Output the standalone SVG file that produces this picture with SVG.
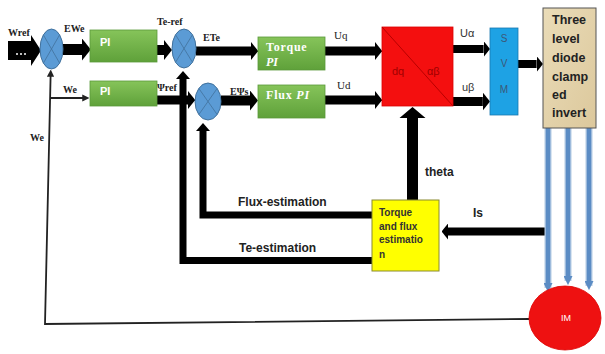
<svg xmlns="http://www.w3.org/2000/svg" width="605" height="354" viewBox="0 0 605 354">
<style>
.lbl{font-family:"Liberation Serif",serif;font-weight:bold;font-size:10px;fill:#222}
.sans{font-family:"Liberation Sans",Arial,sans-serif}
.thick{fill:none;stroke:#000;stroke-linecap:butt;stroke-linejoin:miter}
.sum{fill:#5b9bd5;stroke:#41719c;stroke-width:1}
.x{stroke:#41719c;stroke-width:0.8}
.pi{fill:url(#g);stroke:#5a9a3a;stroke-width:0.8}
.thin{fill:none;stroke:#222;stroke-width:1.8}
.blue{fill:none;stroke:#5b8cc4;stroke-width:4.5}
.blueo{fill:none;stroke:#b4cbe4;stroke-width:7}
</style>
<defs>
<linearGradient id="g" x1="0" y1="0" x2="0" y2="1">
<stop offset="0" stop-color="#86c45a"/>
<stop offset="1" stop-color="#5fa13a"/>
</linearGradient>
<linearGradient id="inv" x1="0" y1="0" x2="1" y2="1">
<stop offset="0" stop-color="#eadcb8"/>
<stop offset="1" stop-color="#dcc89c"/>
</linearGradient>
<marker id="ah" viewBox="0 0 8 20" refX="0" refY="10" markerWidth="0.8" markerHeight="2" orient="auto" markerUnits="strokeWidth">
<path d="M0,0 L8,10 L0,20 z" fill="#000"/>
</marker>
<marker id="ahs" viewBox="0 0 8 14" refX="0" refY="7" markerWidth="1.2" markerHeight="2" orient="auto" markerUnits="strokeWidth">
<path d="M0,0 L8,7 L0,14 z" fill="#000"/>
</marker>
<marker id="aht" viewBox="0 0 10 10" refX="1" refY="5" markerWidth="4" markerHeight="4" orient="auto" markerUnits="strokeWidth">
<path d="M0,0 L10,5 L0,10 z" fill="#222"/>
</marker>
<marker id="ahb" viewBox="0 0 10 10" refX="1" refY="5" markerWidth="2" markerHeight="2" orient="auto" markerUnits="strokeWidth">
<path d="M0,0 L10,5 L0,10 z" fill="#5b8cc4"/>
</marker>
</defs>
<rect width="605" height="354" fill="#fff"/>

<g id="connectors">
<!-- Wref input arrow -->
<path d="M8,41 L31,41 L31,35 L41,50.5 L31,66 L31,60 L8,60 z" fill="#000"/>
<circle cx="17" cy="54" r="1" fill="#fff"/><circle cx="21" cy="54" r="1" fill="#fff"/><circle cx="25" cy="54" r="1" fill="#fff"/>
<line class="thick" x1="63" y1="49.5" x2="82" y2="49.5" stroke-width="11" marker-end="url(#ah)"/>
<line class="thick" x1="157" y1="50" x2="164" y2="50" stroke-width="10" marker-end="url(#ah)"/>
<line class="thick" x1="196" y1="51" x2="251" y2="51" stroke-width="9" marker-end="url(#ah)"/>
<line class="thick" x1="325" y1="51" x2="375" y2="51" stroke-width="9" marker-end="url(#ah)"/>
<line class="thick" x1="157" y1="100" x2="188" y2="100" stroke-width="9" marker-end="url(#ah)"/>
<line class="thick" x1="221" y1="100.5" x2="250" y2="100.5" stroke-width="10" marker-end="url(#ah)"/>
<line class="thick" x1="325" y1="100" x2="375" y2="100" stroke-width="9" marker-end="url(#ah)"/>
<line class="thick" x1="453" y1="49" x2="483.6" y2="49" stroke-width="8" marker-end="url(#ah)"/>
<line class="thick" x1="453" y1="101.5" x2="482.8" y2="101.5" stroke-width="9" marker-end="url(#ah)"/>
<line class="thick" x1="518" y1="64" x2="536.6" y2="64" stroke-width="8" marker-end="url(#ah)"/>
<!-- theta -->
<path d="M407,200 L407,118 L399.5,118 L412.5,107 L425.5,118 L418,118 L418,200 z" fill="#000"/>
<!-- Is -->
<line class="thick" x1="548" y1="231.5" x2="448" y2="231.5" stroke-width="8" marker-end="url(#ah)"/>
<!-- Flux-estimation feedback -->
<path class="thick" d="M372,215 L203,215 L203,131" stroke-width="7" marker-end="url(#ahs)"/>
<!-- Te-estimation feedback -->
<path class="thick" d="M372,260.5 L183,260.5 L183,79" stroke-width="7" marker-end="url(#ahs)"/>
<!-- We speed feedback (thin) -->
<path class="thin" d="M529,319 L45,324 L50.6,76" marker-end="url(#aht)"/>
<line class="thin" x1="50.2" y1="98" x2="83" y2="98" marker-end="url(#aht)"/>
<!-- three phase lines to IM -->
<line class="blueo" x1="548" y1="128" x2="548" y2="288"/>
<line class="blueo" x1="568" y1="128" x2="568" y2="281"/>
<line class="blueo" x1="589" y1="128" x2="589" y2="286"/>
<line class="blue" x1="548" y1="128" x2="548" y2="284" marker-end="url(#ahb)"/>
<line class="blue" x1="568" y1="128" x2="568" y2="277" marker-end="url(#ahb)"/>
<line class="blue" x1="589" y1="128" x2="589" y2="282" marker-end="url(#ahb)"/>
</g>

<g id="labels">
<text class="lbl" x="8" y="36">Wref</text>
<text class="lbl" x="64" y="32">EWe</text>
<text class="lbl" x="157" y="25">Te-ref</text>
<text class="lbl" x="203" y="41">ETe</text>
<text class="lbl" x="63" y="93">We</text>
<text class="lbl" x="157" y="91">Ψref</text>
<text class="lbl" x="230" y="95">EΨs</text>
<text class="lbl" x="30" y="141">We</text>
<text class="lbl" x="334" y="39" style="font-weight:normal;font-size:11px">Uq</text>
<text class="lbl" x="337" y="89" style="font-weight:normal;font-size:11px">Ud</text>
<text class="sans" x="460" y="37" font-size="11" fill="#333">Uα</text>
<text class="sans" x="462" y="91" font-size="11" fill="#333">uβ</text>
<text class="sans" x="425" y="176" font-size="12" font-weight="bold" fill="#222">theta</text>
<text class="sans" x="473" y="217" font-size="12" font-weight="bold" fill="#222">Is</text>
<text class="sans" x="238" y="206" font-size="12" font-weight="bold" fill="#222">Flux-estimation</text>
<text class="sans" x="239" y="252" font-size="12" font-weight="bold" fill="#222">Te-estimation</text>
</g>

<g id="sum1">
<ellipse class="sum" cx="51.5" cy="49" rx="11.5" ry="20"/>
<line class="x" x1="43.4" y1="34.9" x2="59.6" y2="63.1"/><line class="x" x1="59.6" y1="34.9" x2="43.4" y2="63.1"/>
</g>
<g id="sum2">
<ellipse class="sum" cx="184" cy="48.5" rx="12" ry="19.5"/>
<line class="x" x1="175.5" y1="34.7" x2="192.5" y2="62.3"/><line class="x" x1="192.5" y1="34.7" x2="175.5" y2="62.3"/>
</g>
<g id="sum3">
<ellipse class="sum" cx="208" cy="101.5" rx="13" ry="18.5"/>
<line class="x" x1="198.8" y1="88.4" x2="217.2" y2="114.6"/><line class="x" x1="217.2" y1="88.4" x2="198.8" y2="114.6"/>
</g>

<g id="pi1">
<rect class="pi" x="90" y="30" width="67" height="32"/>
<text class="sans" x="100" y="46" font-size="11" font-weight="bold" fill="#fff">PI</text>
</g>
<g id="pi2">
<rect class="pi" x="90" y="81" width="67" height="25"/>
<text class="sans" x="100" y="95" font-size="11" font-weight="bold" fill="#fff">PI</text>
</g>
<g id="torque-pi">
<rect class="pi" x="258" y="37" width="67" height="33"/>
<text x="266" y="51" font-family="Liberation Serif,serif" font-size="12" font-weight="bold" fill="#fff" letter-spacing="0.8">Torque</text>
<text x="266" y="66" font-family="Liberation Serif,serif" font-size="12" font-weight="bold" font-style="italic" fill="#fff">PI</text>
</g>
<g id="flux-pi">
<rect class="pi" x="258" y="85" width="67" height="33"/>
<text x="266" y="99" font-family="Liberation Serif,serif" font-size="12" font-weight="bold" fill="#fff" letter-spacing="0.8">Flux <tspan font-style="italic">PI</tspan></text>
</g>

<g id="dq-ab">
<rect x="382" y="27" width="71" height="79" fill="#f40f0f" stroke="#d00" stroke-width="0.8"/>
<line x1="382" y1="27" x2="453" y2="106" stroke="#b80000" stroke-width="1"/>
<text class="sans" x="392" y="75" font-size="11" fill="#a00000">dq</text>
<text class="sans" x="427" y="75" font-size="11" fill="#a00000">αβ</text>
</g>

<g id="svm">
<rect x="490" y="28" width="28" height="87" fill="#1ea2e4" stroke="#1878b0" stroke-width="0.8"/>
<text class="sans" x="504" y="42" font-size="10" fill="#3b5878" text-anchor="middle">S</text>
<text class="sans" x="504" y="67" font-size="10" fill="#3b5878" text-anchor="middle">V</text>
<text class="sans" x="504" y="93" font-size="10" fill="#3b5878" text-anchor="middle">M</text>
</g>

<g id="inverter">
<rect x="543" y="8" width="53" height="120" fill="url(#inv)" stroke="#555" stroke-width="1"/>
<g class="sans" font-size="12.5" font-weight="bold" fill="#222">
<text x="552" y="24">Three</text>
<text x="552" y="43">level</text>
<text x="552" y="62">diode</text>
<text x="552" y="81">clamp</text>
<text x="552" y="99">ed</text>
<text x="552" y="117">invert</text>
</g>
</g>

<g id="estimator">
<rect x="372" y="200" width="67" height="71" fill="#ffff00" stroke="#8a8a30" stroke-width="1"/>
<g class="sans" font-size="10" font-weight="bold" fill="#333">
<text x="379" y="216">Torque</text>
<text x="379" y="230">and flux</text>
<text x="379" y="243">estimatio</text>
<text x="379" y="258">n</text>
</g>
</g>

<g id="im">
<ellipse cx="565" cy="318" rx="36" ry="32" fill="#ee1111" stroke="#d00" stroke-width="0.8"/>
<text class="sans" x="566" y="321" font-size="9" fill="#fff" text-anchor="middle">IM</text>
</g>
</svg>
